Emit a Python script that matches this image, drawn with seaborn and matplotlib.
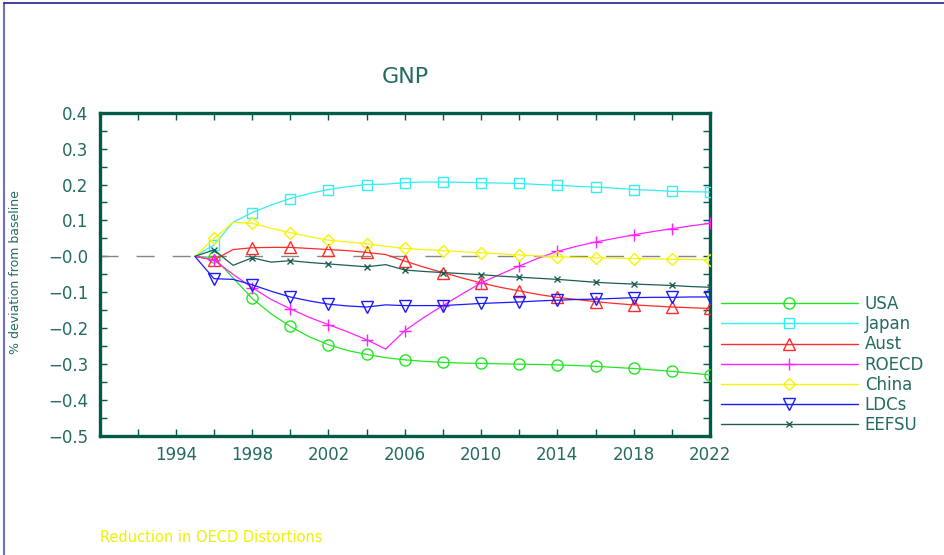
import matplotlib
matplotlib.use("Agg")
import matplotlib.pyplot as plt
from matplotlib.lines import Line2D
import seaborn as sns
import pandas as pd

# Datos (desviacion % respecto al baseline)
years = list(range(1995, 2023))

usa = [0.0, -0.003, -0.060, -0.117, -0.160, -0.195, -0.224, -0.246, -0.262, -0.273,
       -0.282, -0.288, -0.292, -0.295, -0.297, -0.298, -0.299, -0.300, -0.301, -0.302,
       -0.304, -0.306, -0.309, -0.312, -0.316, -0.320, -0.325, -0.330]
japan = [0.0, 0.032, 0.095, 0.122, 0.143, 0.161, 0.175, 0.186, 0.194, 0.200,
         0.201, 0.205, 0.207, 0.207, 0.206, 0.205, 0.204, 0.203, 0.200, 0.198,
         0.195, 0.193, 0.190, 0.186, 0.184, 0.181, 0.180, 0.179]
aust = [0.0, -0.010, 0.019, 0.024, 0.025, 0.025, 0.022, 0.019, 0.016, 0.011,
        0.005, -0.013, -0.030, -0.045, -0.060, -0.074, -0.086, -0.096, -0.106, -0.114,
        -0.120, -0.126, -0.131, -0.135, -0.138, -0.141, -0.143, -0.145]
roecd = [0.0, -0.010, -0.050, -0.087, -0.120, -0.146, -0.170, -0.190, -0.210, -0.232,
         -0.258, -0.207, -0.170, -0.137, -0.105, -0.074, -0.050, -0.027, -0.005, 0.014,
         0.028, 0.040, 0.050, 0.060, 0.069, 0.077, 0.085, 0.092]
china = [0.0, 0.050, 0.095, 0.092, 0.078, 0.066, 0.055, 0.045, 0.040, 0.035,
         0.028, 0.022, 0.019, 0.016, 0.013, 0.010, 0.007, 0.004, 0.001, -0.001,
         -0.003, -0.004, -0.005, -0.006, -0.007, -0.008, -0.009, -0.010]
ldcs = [0.0, -0.062, -0.064, -0.079, -0.097, -0.113, -0.124, -0.133, -0.138, -0.141,
        -0.135, -0.137, -0.137, -0.137, -0.134, -0.131, -0.129, -0.127, -0.124, -0.122,
        -0.120, -0.119, -0.117, -0.115, -0.114, -0.114, -0.113, -0.113]
eefsu = [0.0, 0.018, -0.025, -0.004, -0.016, -0.012, -0.017, -0.021, -0.025, -0.029,
         -0.023, -0.038, -0.042, -0.045, -0.048, -0.051, -0.055, -0.058, -0.061, -0.064,
         -0.068, -0.072, -0.075, -0.077, -0.079, -0.081, -0.084, -0.086]

regions = ["USA", "Japan", "Aust", "ROECD", "China", "LDCs", "EEFSU"]
series = [usa, japan, aust, roecd, china, ldcs, eefsu]

ytick_values = [0.4, 0.3, 0.2, 0.1, 0.0, -0.1, -0.2, -0.3, -0.4, -0.5]
ytick_labels = ["0.4", "0.3", "0.2", "0.1", "\u22120.0", "\u22120.1", "\u22120.2",
                "\u22120.3", "\u22120.4", "\u22120.5"]
xtick_labels = [1994, 1998, 2002, 2006, 2010, 2014, 2018, 2022]

colores = ["#22e622", "#33eef2", "#ff2a2a", "#ff22ff", "#f5f500", "#1a1aff", "#1e5e52"]
marcadores = ["o", "s", "^", "+", "D", "v", "x"]
tamanos = [8, 7, 8, 9, 6.5, 8, 5]

TEAL = "#246b60"
SPINE = "#005a48"


def ejecutar_grafica():
    sns.set_theme(style="white")
    plt.rcParams["font.family"] = ["DejaVu Sans"]

    fig = plt.figure(figsize=(9.45, 5.55), dpi=100)
    ax = fig.add_axes([0.1053, 0.2144, 0.6460, 0.5826])

    # linea cero discontinua
    ax.axhline(0, color="#858585", lw=1.0, ls=(0, (13, 13)), zorder=1)

    handles = []
    for nombre, vals, c, m, s in zip(regions, series, colores, marcadores, tamanos):
        df = pd.DataFrame({"year": years, "value": vals})
        sns.lineplot(data=df, x="year", y="value", ax=ax, color=c, lw=0.9,
                     marker=m, markevery=(1, 2), ms=s, mfc="none", mec=c, mew=1.0,
                     legend=False, zorder=3)
        handles.append(Line2D([], [], color=c, lw=1.0, marker=m, ms=s,
                              mfc="none", mec=c, mew=1.0))

    ax.set_xlim(1990, 2022)
    ax.set_ylim(-0.5, 0.4)

    ax.set_xticks(list(range(1990, 2023, 2)))
    ax.set_xticklabels([str(y) if y in xtick_labels else "" for y in range(1990, 2023, 2)])
    ax.set_yticks(ytick_values)
    ax.set_yticklabels(ytick_labels)
    ax.set_yticks([v / 100 for v in range(-45, 40, 10)], minor=True)

    ax.tick_params(axis="both", which="both", direction="in", length=5, width=1,
                   color=SPINE, top=True, right=True, labelcolor=TEAL,
                   labelsize=12)
    ax.tick_params(axis="y", which="both", pad=8, left=True)
    ax.tick_params(axis="x", which="both", pad=7, bottom=True)

    for sp in ax.spines.values():
        sp.set_color(SPINE)
        sp.set_linewidth(2.4)

    ax.set_xlabel("")
    ax.set_ylabel("")
    ax.grid(False)

    fig.text(405 / 945, 1 - 77 / 555, "GNP", color=TEAL, fontsize=16,
             ha="center", va="center")
    fig.text(16 / 945, 1 - 272 / 555, "% deviation from baseline", color=TEAL,
             fontsize=9, rotation=90, ha="center", va="center")
    fig.text(100 / 945, 1 - 537 / 555, "Reduction in OECD Distortions",
             color="#f0f000", fontsize=10.5, ha="left", va="center")

    fig.legend(handles, regions, loc="upper left",
               bbox_to_anchor=(721 / 945, 1 - 295 / 555), frameon=False,
               fontsize=12, handlelength=8.2, handletextpad=0.42,
               labelspacing=0.13, borderpad=0, borderaxespad=0, numpoints=1,
               labelcolor=TEAL)

    # marco de la figura (izquierda y arriba)
    fig.add_artist(Line2D([4 / 945, 4 / 945], [0, 1 - 3 / 555], color="#7070c0", lw=1.5))
    fig.add_artist(Line2D([4 / 945, 1], [1 - 3 / 555, 1 - 3 / 555], color="#202090", lw=1.2))

    fig.savefig("out.png", dpi=100)
    plt.close(fig)


if __name__ == "__main__":
    ejecutar_grafica()
